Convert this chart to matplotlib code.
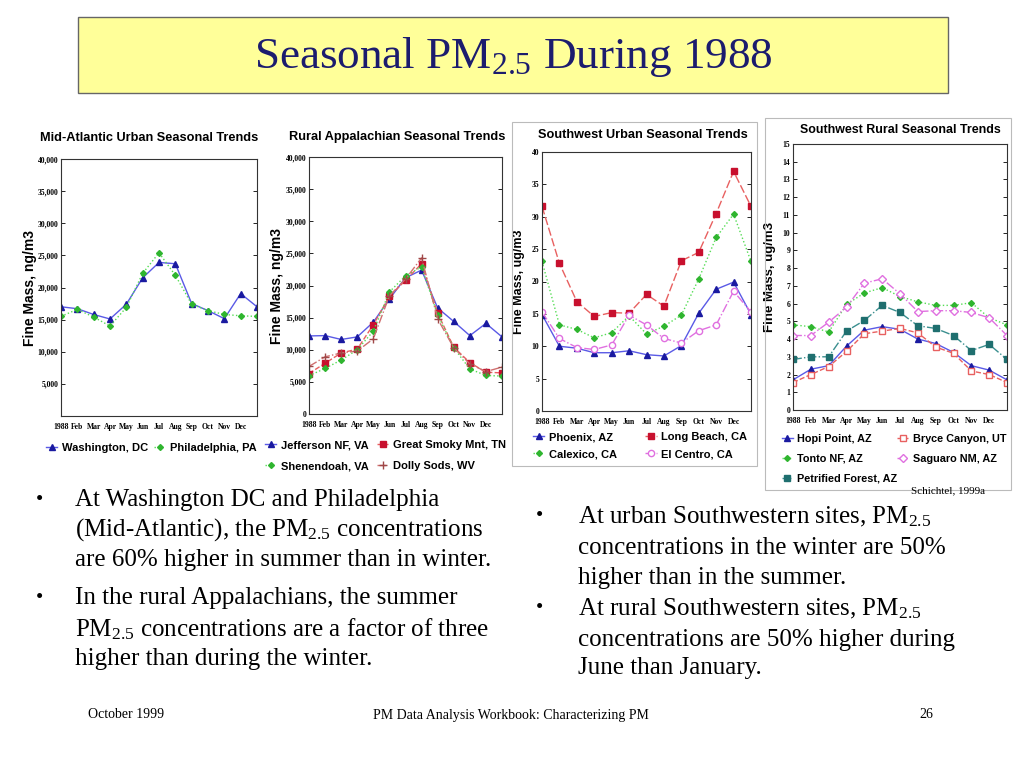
import matplotlib.pyplot as plt
from matplotlib.patches import Rectangle

plt.rcParams['mathtext.default'] = 'regular'

months = ['1988', 'Feb', 'Mar', 'Apr', 'May', 'Jun', 'Jul', 'Aug', 'Sep', 'Oct', 'Nov', 'Dec']
x = list(range(13))

# Mid-Atlantic urban, ng/m3
washington = [17000, 16700, 15800, 15100, 17400, 21500, 23900, 23700, 17500, 16400, 15150, 19050, 17000]
philadelphia = [15500, 16600, 15400, 14000, 16900, 22200, 25400, 21900, 17400, 16400, 15800, 15600, 15500]

# Rural Appalachian, ng/m3
jefferson = [12150, 12200, 11600, 12000, 14300, 17900, 21200, 22400, 16500, 14400, 12200, 14100, 12000]
smoky = [6300, 7900, 9500, 10100, 13900, 18300, 20800, 23400, 15700, 10400, 8000, 6500, 6400]
shenandoah = [5950, 7100, 8400, 10000, 12900, 19000, 21500, 22900, 15400, 10300, 7000, 6000, 5900]
dolly = [7400, 8900, 9500, 9800, 11700, 18400, 21000, 24300, 14800, 10300, 7800, 6600, 7300]

# Southwest urban, ug/m3
phoenix = [14.9, 10.0, 9.7, 9.0, 9.0, 9.3, 8.7, 8.5, 10.1, 15.1, 18.8, 19.9, 14.9]
longbeach = [31.6, 22.8, 16.9, 14.6, 15.2, 15.1, 18.0, 16.2, 23.2, 24.5, 30.5, 37.0, 31.6]
calexico = [23.1, 13.3, 12.6, 11.3, 12.1, 14.7, 11.9, 13.1, 14.8, 20.4, 26.8, 30.4, 23.1]
elcentro = [15.3, 11.2, 9.8, 9.5, 10.2, 14.8, 13.3, 11.2, 10.5, 12.4, 13.3, 18.5, 15.3]

# Southwest rural, ug/m3
hopi = [1.7, 2.3, 2.5, 3.6, 4.5, 4.7, 4.55, 4.0, 3.75, 3.25, 2.5, 2.25, 1.7]
bryce = [1.55, 2.0, 2.45, 3.3, 4.3, 4.45, 4.6, 4.35, 3.55, 3.2, 2.2, 2.0, 1.55]
tonto = [4.8, 4.7, 4.4, 5.95, 6.6, 6.9, 6.4, 6.1, 5.9, 5.9, 6.05, 5.2, 4.8]
saguaro = [4.2, 4.2, 4.95, 5.8, 7.15, 7.4, 6.55, 5.55, 5.6, 5.6, 5.5, 5.2, 4.2]
petrified = [2.85, 3.0, 3.0, 4.45, 5.05, 5.9, 5.5, 4.75, 4.6, 4.2, 3.35, 3.7, 2.85]

W, H = 1024, 768
fig = plt.figure(figsize=(10.24, 7.68), dpi=100)
fig.patch.set_facecolor('white')


def px(x0, y0):
    return x0 / W, 1 - y0 / H


def make_axes(l, t, r, b):
    return fig.add_axes([l / W, 1 - b / H, (r - l) / W, (b - t) / H])


SANS = ['Liberation Sans', 'DejaVu Sans']
SERIF = ['Liberation Serif', 'DejaVu Serif']

blue_l, blue_m = '#5a5ae6', '#1a1aa0'
green_l, green_m = '#55dd55', '#2fb52f'
red_l, red_m = '#e86060', '#c8102e'
mag = '#e070e0'
teal = '#1f6f6f'
brown = '#a04848'


def style_axes(ax, ymax, yticks, ylabels, ylab, ylab_x, ylab_size):
    ax.set_xlim(0, 12)
    ax.set_ylim(0, ymax)
    ax.set_xticks(range(12))
    ax.set_xticklabels(months, family=SERIF, fontweight='bold', fontsize=5.5)
    ax.set_yticks(yticks)
    ax.set_yticklabels(ylabels, family=SERIF, fontweight='bold', fontsize=5.5)
    ax.tick_params(axis='y', direction='in', right=True, length=3, width=0.6, pad=2)
    ax.tick_params(axis='x', length=0, pad=5)
    for s in ax.spines.values():
        s.set_linewidth(0.8)
        s.set_color('#333333')
    ax.set_ylabel(ylab, family=SANS, fontweight='bold', fontsize=ylab_size)
    ax.yaxis.set_label_coords(ylab_x, 0.5)


def legend(handles, anchor, colsp, labsp, size):
    fig.legend(handles=handles, loc='upper left', bbox_to_anchor=px(*anchor), ncol=2, frameon=False,
               handlelength=1.0, handletextpad=0.4, columnspacing=colsp, labelspacing=labsp,
               borderaxespad=0, borderpad=0, prop={'family': SANS, 'weight': 'bold', 'size': size})


# --- title box ---
fig.patches.append(Rectangle(px(78, 93), 870 / W, 76 / H, transform=fig.transFigure,
                             facecolor='#ffff99', edgecolor='#666666', linewidth=1))
fig.text(513 / W, 1 - 57 / H, 'Seasonal PM$_{2.5}$ During 1988', ha='center', va='center',
         family=SERIF, fontsize=32.5, color='#1c1c6e')

# --- panel frames for the southwest charts ---
fig.patches.append(Rectangle(px(512, 466), 245 / W, 344 / H, transform=fig.transFigure,
                             facecolor='none', edgecolor='#bbbbbb', linewidth=0.8))
fig.patches.append(Rectangle(px(765, 490), 246 / W, 372 / H, transform=fig.transFigure,
                             facecolor='none', edgecolor='#bbbbbb', linewidth=0.8))

# --- chart 1 ---
ax1 = make_axes(61, 159, 257, 416)
h_was, = ax1.plot(x, washington, color=blue_l, lw=1, marker='^', ms=4.5, mfc=blue_m, mec=blue_m, label='Washington, DC')
h_phi, = ax1.plot(x, philadelphia, color=green_l, lw=1, ls=':', marker='D', ms=3, mfc=green_m, mec=green_m, label='Philadelphia, PA')
ticks1 = [5000, 10000, 15000, 20000, 25000, 30000, 35000, 40000]
style_axes(ax1, 40000, ticks1, [f'{t:,}' for t in ticks1], 'Fine Mass, ng/m3', -0.12, 10)
fig.text(149 / W, 1 - 138 / H, 'Mid-Atlantic Urban Seasonal Trends', ha='center', va='center',
         family=SANS, fontweight='bold', fontsize=9.2)
legend([h_was, h_phi], (46, 443), 0.6, 0.5, 8)

# --- chart 2 ---
ax2 = make_axes(309, 157, 502, 414)
h_jef, = ax2.plot(x, jefferson, color=blue_l, lw=1, marker='^', ms=4.5, mfc=blue_m, mec=blue_m, label='Jefferson NF, VA')
h_smk, = ax2.plot(x, smoky, color=red_l, lw=1, ls='--', marker='s', ms=4, mfc=red_m, mec=red_m, label='Great Smoky Mnt, TN')
h_she, = ax2.plot(x, shenandoah, color=green_l, lw=1, ls=':', marker='D', ms=3, mfc=green_m, mec=green_m, label='Shenendoah, VA')
h_dol, = ax2.plot(x, dolly, color='#d07070', lw=1, ls='-.', marker='+', ms=6, mec=brown, label='Dolly Sods, WV')
ticks2 = [0, 5000, 10000, 15000, 20000, 25000, 30000, 35000, 40000]
style_axes(ax2, 40000, ticks2, [f'{t:,}' for t in ticks2], 'Fine Mass, ng/m3', -0.13, 10)
fig.text(397 / W, 1 - 137 / H, 'Rural Appalachian Seasonal Trends', ha='center', va='center',
         family=SANS, fontweight='bold', fontsize=9.2)
legend([h_jef, h_she, h_smk, h_dol], (265, 440), 0.8, 1.0, 8)

# --- chart 3 ---
ax3 = make_axes(542, 152, 751, 411)
h_pho, = ax3.plot(x, phoenix, color=blue_l, lw=1, marker='^', ms=4.5, mfc=blue_m, mec=blue_m, label='Phoenix, AZ')
h_lb, = ax3.plot(x, longbeach, color=red_l, lw=1, ls=(0, (6, 2)), marker='s', ms=4, mfc=red_m, mec=red_m, label='Long Beach, CA')
h_cal, = ax3.plot(x, calexico, color=green_l, lw=1, ls=':', marker='D', ms=3, mfc=green_m, mec=green_m, label='Calexico, CA')
h_elc, = ax3.plot(x, elcentro, color=mag, lw=1, ls='-.', marker='o', ms=4.5, mfc='white', mec=mag, label='El Centro, CA')
ticks3 = [0, 5, 10, 15, 20, 25, 30, 35, 40]
style_axes(ax3, 40, ticks3, [str(t) for t in ticks3], 'Fine Mass, ug/m3', -0.08, 9)
fig.text(643 / W, 1 - 135 / H, 'Southwest Urban Seasonal Trends', ha='center', va='center',
         family=SANS, fontweight='bold', fontsize=9.2)
legend([h_pho, h_cal, h_lb, h_elc], (533, 432), 2.6, 0.65, 8)

# --- chart 4 ---
ax4 = make_axes(793, 144, 1007, 410)
h_hop, = ax4.plot(x, hopi, color=blue_l, lw=1, marker='^', ms=4.5, mfc=blue_m, mec=blue_m, label='Hopi Point, AZ')
h_bry, = ax4.plot(x, bryce, color=red_l, lw=1, ls='--', marker='s', ms=4, mfc='white', mec=red_l, label='Bryce Canyon, UT')
h_ton, = ax4.plot(x, tonto, color=green_l, lw=1, ls=':', marker='D', ms=3, mfc=green_m, mec=green_m, label='Tonto NF, AZ')
h_sag, = ax4.plot(x, saguaro, color=mag, lw=1, ls='-.', marker='D', ms=4, mfc='white', mec=mag, label='Saguaro NM, AZ')
h_pet, = ax4.plot(x, petrified, color='#3a8f8f', lw=1, ls='-.', marker='s', ms=4, mfc=teal, mec=teal, label='Petrified Forest, AZ')
ticks4 = list(range(16))
style_axes(ax4, 15, ticks4, [str(t) for t in ticks4], 'Fine Mass, ug/m3', -0.08, 9.5)
fig.text(900 / W, 1 - 130 / H, 'Southwest Rural Seasonal Trends', ha='center', va='center',
         family=SANS, fontweight='bold', fontsize=8.9)
legend([h_hop, h_ton, h_pet, h_bry, h_sag], (782, 434), 0.0, 0.9, 7.8)

fig.text(985 / W, 1 - 491 / H, 'Schichtel, 1999a', ha='right', va='center', family=SERIF, fontsize=8)

# --- bullet text ---
left_lines = [
    (500, 'At Washington DC and Philadelphia', True),
    (530, '(Mid-Atlantic), the PM$_{2.5}$ concentrations', False),
    (560, 'are 60% higher in summer than in winter.', False),
    (598, 'In the rural Appalachians, the summer', True),
    (629, 'PM$_{2.5}$ concentrations are a factor of three', False),
    (659, 'higher than during the winter.', False),
]
right_lines = [
    (517, 'At urban Southwestern sites, PM$_{2.5}$', True),
    (548, 'concentrations in the winter are 50%', False),
    (578, 'higher than in the summer.', False),
    (609, 'At rural Southwestern sites, PM$_{2.5}$', True),
    (640, 'concentrations are 50% higher during', False),
    (668, 'June than January.', False),
]
for lines, bx, tx in [(left_lines, 36, 75), (right_lines, 536, 578)]:
    for yy, txt, bullet in lines:
        if bullet:
            fig.text(bx / W, 1 - yy / H, '\u2022', ha='left', va='center', family=SERIF, fontsize=15)
        fig.text(tx / W, 1 - yy / H, txt, ha='left', va='center', family=SERIF, fontsize=18)

# --- footer ---
fig.text(88 / W, 1 - 715 / H, 'October 1999', ha='left', va='center', family=SERIF, fontsize=10)
fig.text(511 / W, 1 - 715 / H, 'PM Data Analysis Workbook: Characterizing PM', ha='center', va='center',
         family=SERIF, fontsize=10)
fig.text(926 / W, 1 - 715 / H, '26', ha='center', va='center', family=SERIF, fontsize=10)

fig.savefig('out.png', dpi=100, facecolor='white')
